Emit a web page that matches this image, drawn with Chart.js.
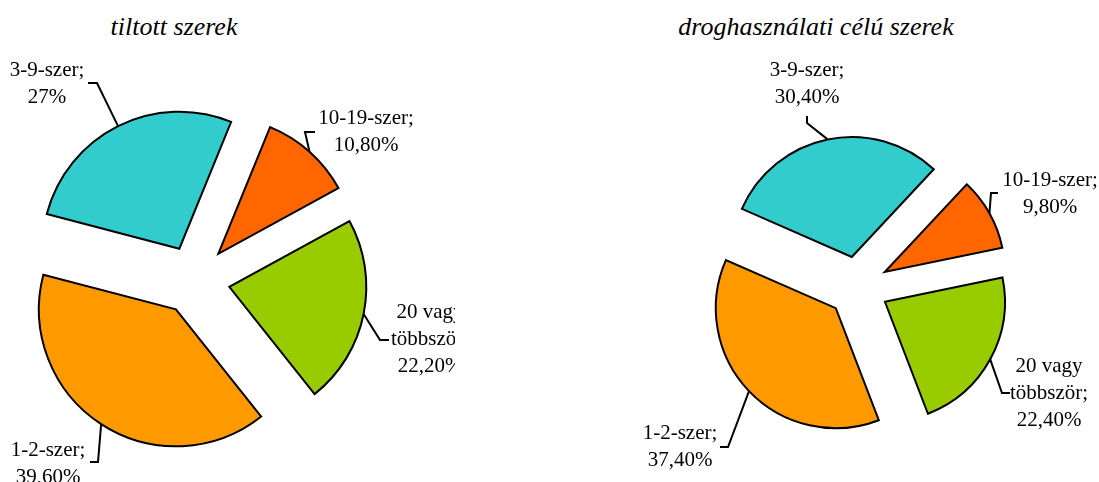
<!DOCTYPE html>
<html>
<head>
<meta charset="utf-8">
<script src="https://cdn.jsdelivr.net/npm/chart.js@4.4.0/dist/chart.umd.min.js"></script>
<style>
  body { margin: 0; background: #fff; width: 1099px; height: 482px; position: relative; overflow: hidden; }
  .title { position: absolute; top: 14px; font: italic 26px/26px "Liberation Serif", "Times New Roman", serif; color: #000; transform: translateX(-50%); white-space: nowrap; }
  .wrap { position: absolute; top: 0; height: 482px; }
</style>
</head>
<body>
<div class="title" style="left:174px">tiltott szerek</div>
<div class="title" style="left:816px">droghasználati célú szerek</div>
<div class="wrap" style="left:0;width:455px"><canvas id="chartLeft"></canvas></div>
<div class="wrap" style="left:550px;width:549px"><canvas id="chartRight"></canvas></div>

<script>
// data
const categories = ["1-2-szer", "3-9-szer", "10-19-szer", "20 vagy többször"];
const categoryLines = [["1-2-szer;"], ["3-9-szer;"], ["10-19-szer;"], ["20 vagy", "többször;"]];
const tiltottValues = [39.6, 27, 10.8, 22.2];
const tiltottLabels = ["39,60%", "27%", "10,80%", "22,20%"];
const drogValues = [37.4, 30.4, 9.8, 22.4];
const drogLabels = ["37,40%", "30,40%", "9,80%", "22,40%"];

const sliceColors = ["#FF9900", "#33CCCC", "#FF6600", "#99CC00"];

// where the label text sits and how the leader line bends (canvas px)
const leftLayout = [
    { x: 48, y: 450, elbow: [98, 462], end: [90, 462] },
    { x: 47, y: 70, elbow: [97, 83], end: [88, 83] },
    { x: 366, y: 118, elbow: [305, 132], end: [315, 132] },
    { x: 430, y: 312, elbow: [380, 340], end: [389, 340] }
];
const rightLayout = [
    { x: 130, y: 433, elbow: [178, 447], end: [170, 447] },
    { x: 257, y: 70, elbow: [257, 123], end: [257, 116] },
    { x: 500, y: 180, elbow: [441, 193], end: [448, 193] },
    { x: 499, y: 366, elbow: [452, 393], end: [460, 393] }
];

/* pulls every slice out along its middle angle */
const explodePlugin = {
    id: "explode",
    beforeDatasetsDraw(chart, args, opts) {
        const ctx = chart.ctx;
        const dist = opts.distance || 0;
        chart.getDatasetMeta(0).data.forEach((arc) => {
            const mid = (arc.startAngle + arc.endAngle) / 2;
            ctx.save();
            ctx.translate(Math.cos(mid) * dist, Math.sin(mid) * dist);
            arc.draw(ctx);
            ctx.restore();
        });
        return false;
    }
};

/* category;value labels with leader lines */
const labelPlugin = {
    id: "sliceLabels",
    afterDraw(chart, args, opts) {
        const ctx = chart.ctx;
        const arcs = chart.getDatasetMeta(0).data;
        const dist = chart.options.plugins.explode.distance;
        ctx.save();
        ctx.lineWidth = 2;
        ctx.strokeStyle = "#000";
        ctx.lineJoin = "miter";
        ctx.fillStyle = "#000";
        ctx.font = '21px "Liberation Serif", "Times New Roman", serif';
        ctx.textAlign = "center";
        ctx.textBaseline = "middle";
        opts.layout.forEach((pos, i) => {
            const arc = arcs[i];
            const mid = (arc.startAngle + arc.endAngle) / 2;
            const ax = arc.x + Math.cos(mid) * (dist + arc.outerRadius);
            const ay = arc.y + Math.sin(mid) * (dist + arc.outerRadius);
            ctx.beginPath();
            ctx.moveTo(ax, ay);
            ctx.lineTo(pos.elbow[0], pos.elbow[1]);
            ctx.lineTo(pos.end[0], pos.end[1]);
            ctx.stroke();
            const lines = categoryLines[i].concat(opts.values[i]);
            lines.forEach((t, k) => {
                ctx.fillText(t, pos.x, pos.y + k * 27);
            });
        });
        ctx.restore();
    }
};

function makePie(id, values, labels, layout, rotation, radius, distance, padding) {
    const ctx = document.getElementById(id).getContext("2d");
    return new Chart(ctx, {
        type: "pie",
        data: {
            labels: categories,
            datasets: [{
                data: values,
                backgroundColor: sliceColors,
                borderColor: "#000",
                borderWidth: 2,
                borderJoinStyle: "miter"
            }]
        },
        options: {
            responsive: true,
            maintainAspectRatio: false,
            animation: false,
            events: [],
            rotation: rotation,
            radius: radius,
            layout: { padding: padding },
            plugins: {
                legend: { display: false },
                tooltip: { enabled: false },
                explode: { distance: distance },
                sliceLabels: { layout: layout, values: labels }
            }
        },
        plugins: [explodePlugin, labelPlugin]
    });
}

makePie("chartLeft", tiltottValues, tiltottLabels, leftLayout, 141.5, 137, 35,
    { left: 0, right: 65, top: 78, bottom: 0 });
makePie("chartRight", drogValues, drogLabels, rightLayout, 159, 120, 30.7,
    { left: 67, right: 0, top: 92, bottom: 0 });
</script>
</body>
</html>
